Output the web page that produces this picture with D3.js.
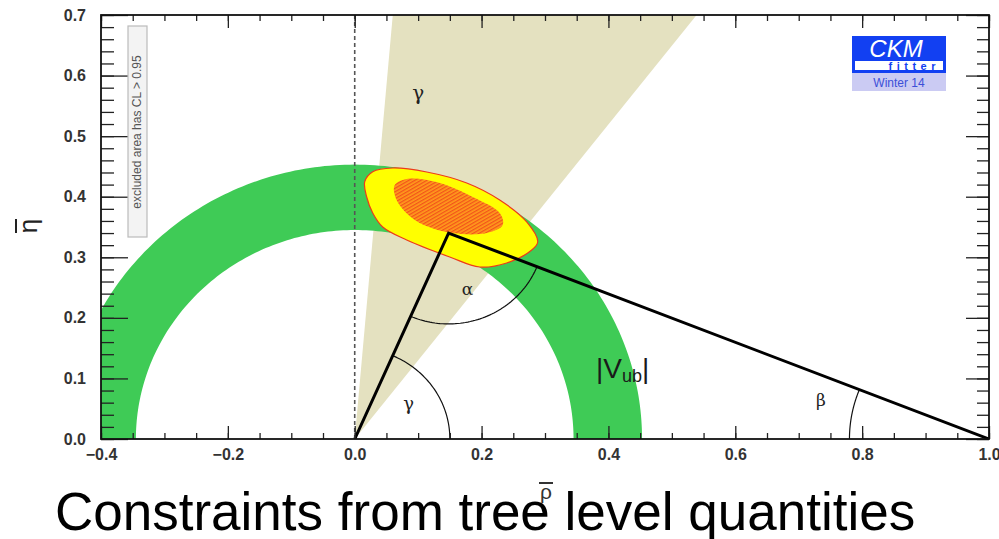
<!DOCTYPE html>
<html>
<head>
<meta charset="utf-8">
<script src="https://cdn.jsdelivr.net/npm/d3@7"></script>
<style>
  html, body { margin: 0; padding: 0; background: #fff; }
  svg { display: block; }
</style>
</head>
<body>
<svg id="chart" width="999" height="539"></svg>
<script>
// ---- unitarity triangle fit inputs (rho-bar, eta-bar plane) ----
const xDomain = [-0.4, 1.0];
const yDomain = [0.0, 0.7];
const xMajorTicks = [-0.4, -0.2, 0.0, 0.2, 0.4, 0.6, 0.8, 1.0];
const yMajorTicks = [0.0, 0.1, 0.2, 0.3, 0.4, 0.5, 0.6, 0.7];
const xMinorStep = 0.05;
const yMinorStep = 0.02;

// |Vub| band: annulus around the origin
const vubRadii = [0.345, 0.453];
// gamma band: wedge from the origin, edge angles in degrees
const gammaEdges = [52.4, 85.1];
// triangle apex (rho-bar, eta-bar) and base corners
const apex = [0.148, 0.340];
const baseLeft = [0.0, 0.0];
const baseRight = [1.0, 0.0];
// angle markers: radius in rho/eta units
const arcRadii = { gamma: 0.15, alpha: 0.15, beta: 0.22 };

// combined fit: 95% CL contour (yellow) and 68% CL contour (orange)
const contour95 = [
  [0.0158, 0.4248], [0.0284, 0.4413], [0.0599, 0.4474], [0.1135, 0.4408],
  [0.1766, 0.4227], [0.2286, 0.3946], [0.2712, 0.3583], [0.2885, 0.3252],
  [0.2791, 0.3120], [0.2396, 0.2906], [0.1971, 0.2840], [0.1498, 0.3005],
  [0.0820, 0.3285], [0.0441, 0.3500], [0.0284, 0.3731], [0.0189, 0.3995]
];
const contour68 = [
  [0.0631, 0.4193], [0.0820, 0.4293], [0.1340, 0.4227], [0.1860, 0.3995],
  [0.2286, 0.3731], [0.2333, 0.3533], [0.2081, 0.3401], [0.1545, 0.3401],
  [0.1025, 0.3566], [0.0741, 0.3814], [0.0631, 0.4028]
];

// text annotations anchored in the rho/eta plane
const annotations = [
  { text: "γ", at: [0.100, 0.560], size: 20 },
  { text: "α", at: [0.178, 0.237], size: 17 },
  { text: "γ", at: [0.085, 0.048], size: 18 },
  { text: "β", at: [0.735, 0.055], size: 17 }
];

// ---- layout ----
const svg = d3.select("#chart");
const plot = { left: 101, right: 989, top: 15, bottom: 439 };
const x = d3.scaleLinear().domain(xDomain).range([plot.left, plot.right]);
const y = d3.scaleLinear().domain(yDomain).range([plot.bottom, plot.top]);
const sans = "'Liberation Sans', Arial, Helvetica, sans-serif";

const defs = svg.append("defs");
defs.append("clipPath").attr("id", "plotClip")
  .append("rect")
  .attr("x", plot.left).attr("y", plot.top)
  .attr("width", plot.right - plot.left).attr("height", plot.bottom - plot.top);

// hatched fill for the inner contour
const hatch = defs.append("pattern")
  .attr("id", "hatch").attr("patternUnits", "userSpaceOnUse")
  .attr("width", 3).attr("height", 3)
  .attr("patternTransform", "rotate(60)");
hatch.append("rect").attr("width", 3).attr("height", 3).attr("fill", "#ff9c1c");
hatch.append("rect").attr("width", 1.3).attr("height", 3).attr("fill", "#f2541a");

const toPx = p => [x(p[0]), y(p[1])];
const rad = d => d * Math.PI / 180;

const layer = svg.append("g").attr("clip-path", "url(#plotClip)");

// gamma wedge
const farR = 3;
const wedge = [baseLeft,
  [farR * Math.cos(rad(gammaEdges[0])), farR * Math.sin(rad(gammaEdges[0]))],
  [farR * Math.cos(rad(gammaEdges[1])), farR * Math.sin(rad(gammaEdges[1]))]];
layer.append("path")
  .attr("d", d3.line()(wedge.map(toPx)) + "Z")
  .attr("fill", "#e4e1c0");

// |Vub| annulus
const annulusPts = [];
const nA = 180;
for (let i = 0; i <= nA; i++) {
  const t = Math.PI * i / nA;
  annulusPts.push([vubRadii[1] * Math.cos(t), vubRadii[1] * Math.sin(t)]);
}
for (let i = nA; i >= 0; i--) {
  const t = Math.PI * i / nA;
  annulusPts.push([vubRadii[0] * Math.cos(t), vubRadii[0] * Math.sin(t)]);
}
layer.append("path")
  .attr("d", d3.line()(annulusPts.map(toPx)) + "Z")
  .attr("fill", "#3fcb56");

// fit contours
const closedCurve = d3.line().curve(d3.curveCatmullRomClosed.alpha(0.5));
layer.append("path")
  .attr("d", closedCurve(contour95.map(toPx)))
  .attr("fill", "#ffff00").attr("stroke", "#ec3b1c").attr("stroke-width", 1.2);
layer.append("path")
  .attr("d", closedCurve(contour68.map(toPx)))
  .attr("fill", "url(#hatch)");

// dashed rho = 0 line
svg.append("line")
  .attr("x1", x(0)).attr("x2", x(0))
  .attr("y1", plot.top).attr("y2", plot.bottom)
  .attr("stroke", "#555").attr("stroke-width", 1.6)
  .attr("stroke-dasharray", "4,3");

// angle arcs (circles in rho/eta units)
function arcPts(center, r, a0, a1) {
  const pts = [];
  const n = 60;
  for (let i = 0; i <= n; i++) {
    const a = a0 + (a1 - a0) * i / n;
    pts.push([center[0] + r * Math.cos(a), center[1] + r * Math.sin(a)]);
  }
  return pts.map(toPx);
}
const angLeft = Math.atan2(apex[1] - baseLeft[1], apex[0] - baseLeft[0]);
const angToLeft = Math.atan2(baseLeft[1] - apex[1], baseLeft[0] - apex[0]);
const angToRight = Math.atan2(baseRight[1] - apex[1], baseRight[0] - apex[0]);
const angRight = Math.atan2(apex[1] - baseRight[1], apex[0] - baseRight[0]);
const arcs = [
  arcPts(baseLeft, arcRadii.gamma, 0, angLeft),
  arcPts(apex, arcRadii.alpha, angToLeft, angToRight),
  arcPts(baseRight, arcRadii.beta, Math.PI, angRight)
];
layer.selectAll("path.arc").data(arcs).join("path")
  .attr("class", "arc")
  .attr("d", d3.line())
  .attr("fill", "none").attr("stroke", "#111").attr("stroke-width", 1.2);

// unitarity triangle
layer.append("path")
  .attr("d", d3.line()([baseLeft, apex, baseRight].map(toPx)))
  .attr("fill", "none").attr("stroke", "#000").attr("stroke-width", 3)
  .attr("stroke-linejoin", "miter");

// angle labels
svg.selectAll("text.ann").data(annotations).join("text")
  .attr("class", "ann")
  .attr("x", d => x(d.at[0])).attr("y", d => y(d.at[1]))
  .attr("text-anchor", "middle")
  .attr("font-family", "'DejaVu Serif', serif")
  .attr("font-size", d => d.size)
  .attr("fill", "#222")
  .text(d => d.text);

// |Vub| label
const vub = svg.append("text")
  .attr("x", 596).attr("y", 378)
  .attr("font-family", sans)
  .attr("font-size", 28).attr("fill", "#1a1a1a");
vub.append("tspan").text("|V");
vub.append("tspan").attr("font-size", 18).attr("dy", 4).text("ub");
vub.append("tspan").attr("dy", -4).text("|");

// ---- axes ----
const fmt = d3.format(".1f");
const xMinor = d3.range(xDomain[0], xDomain[1] + 1e-9, xMinorStep);
const yMinor = d3.range(yDomain[0], yDomain[1] + 1e-9, yMinorStep);

function styleAxis(g) {
  g.select(".domain").remove();
  g.selectAll(".tick line").attr("stroke", "#222").attr("stroke-width", 1.3);
  g.selectAll(".tick text")
    .attr("font-family", sans)
    .attr("font-weight", "bold").attr("font-size", 16).attr("fill", "#333");
}

svg.append("g").attr("transform", `translate(0,${plot.bottom})`)
  .call(d3.axisBottom(x).tickValues(xMinor).tickSize(-6).tickFormat(""))
  .call(styleAxis);
svg.append("g").attr("transform", `translate(0,${plot.bottom})`)
  .call(d3.axisBottom(x).tickValues(xMajorTicks).tickSize(-13).tickPadding(10).tickFormat(fmt))
  .call(styleAxis);
svg.append("g").attr("transform", `translate(0,${plot.top})`)
  .call(d3.axisTop(x).tickValues(xMinor).tickSize(-6).tickFormat(""))
  .call(styleAxis);
svg.append("g").attr("transform", `translate(0,${plot.top})`)
  .call(d3.axisTop(x).tickValues(xMajorTicks).tickSize(-13).tickFormat(""))
  .call(styleAxis);

svg.append("g").attr("transform", `translate(${plot.left},0)`)
  .call(d3.axisLeft(y).tickValues(yMinor).tickSize(-13).tickFormat(""))
  .call(styleAxis);
svg.append("g").attr("transform", `translate(${plot.left},0)`)
  .call(d3.axisLeft(y).tickValues(yMajorTicks).tickSize(-27).tickPadding(15).tickFormat(fmt))
  .call(styleAxis);
svg.append("g").attr("transform", `translate(${plot.right},0)`)
  .call(d3.axisRight(y).tickValues(yMinor).tickSize(-12).tickFormat(""))
  .call(styleAxis);
svg.append("g").attr("transform", `translate(${plot.right},0)`)
  .call(d3.axisRight(y).tickValues(yMajorTicks).tickSize(-23).tickFormat(""))
  .call(styleAxis);

// frame
svg.append("rect")
  .attr("x", plot.left).attr("y", plot.top)
  .attr("width", plot.right - plot.left).attr("height", plot.bottom - plot.top)
  .attr("fill", "none").attr("stroke", "#111").attr("stroke-width", 1.8);

// axis titles: eta-bar (rotated) and rho-bar, bars drawn as strokes
const etaTitle = svg.append("g").attr("transform", "translate(37,226) rotate(-90)");
etaTitle.append("text")
  .attr("text-anchor", "middle")
  .attr("font-family", sans)
  .attr("font-size", 26).attr("fill", "#222")
  .text("η");
etaTitle.append("line")
  .attr("x1", -7).attr("x2", 7).attr("y1", -21).attr("y2", -21)
  .attr("stroke", "#222").attr("stroke-width", 2);

const rhoTitle = svg.append("g").attr("transform", "translate(546,499)");
rhoTitle.append("text")
  .attr("text-anchor", "middle")
  .attr("font-family", sans)
  .attr("font-size", 21).attr("fill", "#333")
  .text("ρ");
rhoTitle.append("line")
  .attr("x1", -7).attr("x2", 7).attr("y1", -16).attr("y2", -16)
  .attr("stroke", "#333").attr("stroke-width", 2);

// exclusion note
const note = svg.append("g").attr("transform", "translate(137,132) rotate(-90)");
note.append("rect")
  .attr("x", -105).attr("y", -9).attr("width", 211).attr("height", 19)
  .attr("fill", "#f3f3f3").attr("stroke", "#bbb").attr("stroke-width", 1.2);
note.append("text")
  .attr("text-anchor", "middle").attr("dy", "0.35em")
  .attr("font-family", sans)
  .attr("font-size", 12).attr("fill", "#555")
  .text("excluded area has CL > 0.95");

// CKMfitter badge
const logo = svg.append("g").attr("transform", "translate(852,36)");
logo.append("rect").attr("width", 94).attr("height", 37).attr("fill", "#1240f2");
logo.append("rect").attr("x", 3).attr("y", 25).attr("width", 88).attr("height", 9).attr("fill", "#fff");
logo.append("text")
  .attr("x", 44).attr("y", 21).attr("text-anchor", "middle")
  .attr("font-family", sans)
  .attr("font-style", "italic").attr("font-size", 24).attr("fill", "#fff")
  .text("CKM");
logo.append("text")
  .attr("x", 88).attr("y", 33.5).attr("text-anchor", "end")
  .attr("font-family", sans)
  .attr("font-weight", "bold").attr("font-size", 11).attr("fill", "#1240f2")
  .attr("letter-spacing", 4.5)
  .text("fitter");
logo.append("rect").attr("y", 37).attr("width", 94).attr("height", 18).attr("fill", "#cbcbf3");
logo.append("text")
  .attr("x", 47).attr("y", 51).attr("text-anchor", "middle")
  .attr("font-family", sans)
  .attr("font-size", 12).attr("fill", "#3c4fd8")
  .text("Winter 14");

// slide caption
svg.append("text")
  .attr("x", 55).attr("y", 530)
  .attr("font-family", sans)
  .attr("font-size", 53).attr("fill", "#000")
  .text("Constraints from tree level quantities");
</script>
</body>
</html>
